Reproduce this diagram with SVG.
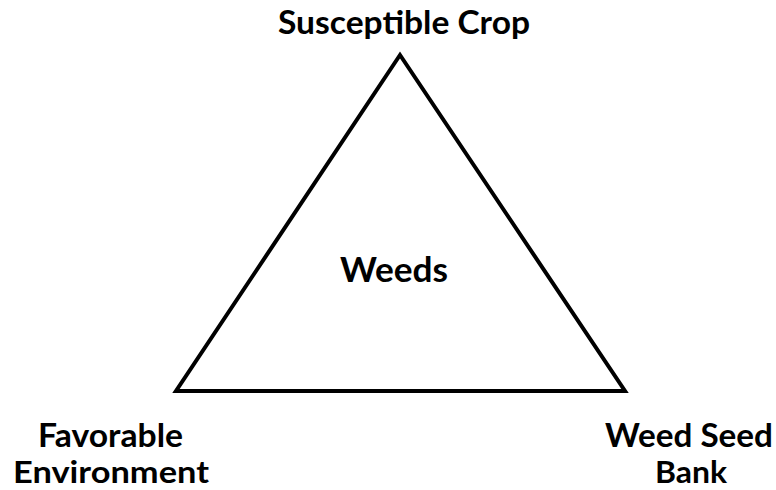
<svg xmlns="http://www.w3.org/2000/svg" width="776" height="490" viewBox="0 0 776 490">
<style>
.t{font-family:Lato,"Open Sans","Liberation Sans",sans-serif;font-weight:bold;fill:#000;text-anchor:middle}
.s{font-size:32px}
.b{font-size:30px}
.w{font-size:34px}
</style>
<rect width="776" height="490" fill="#fff"/>
<g id="connectors">
<polygon points="400,55 176,391 625,391" fill="none" stroke="#000" stroke-width="4" stroke-linejoin="miter"/>
</g>
<g id="crop"><text class="t s" x="404" y="34" textLength="252" lengthAdjust="spacingAndGlyphs">Susceptible Crop</text></g>
<g id="weeds"><text class="t w" x="394" y="282" textLength="108" lengthAdjust="spacingAndGlyphs">Weeds</text></g>
<g id="environment"><text class="t s" x="110.5" y="447" textLength="145" lengthAdjust="spacingAndGlyphs">Favorable</text><text class="t b" x="111" y="483" textLength="196" lengthAdjust="spacingAndGlyphs">Environment</text></g>
<g id="seedbank"><text class="t s" x="689" y="447" textLength="168" lengthAdjust="spacingAndGlyphs">Weed Seed</text><text class="t b" x="691" y="483" textLength="72" lengthAdjust="spacingAndGlyphs">Bank</text></g>
</svg>
